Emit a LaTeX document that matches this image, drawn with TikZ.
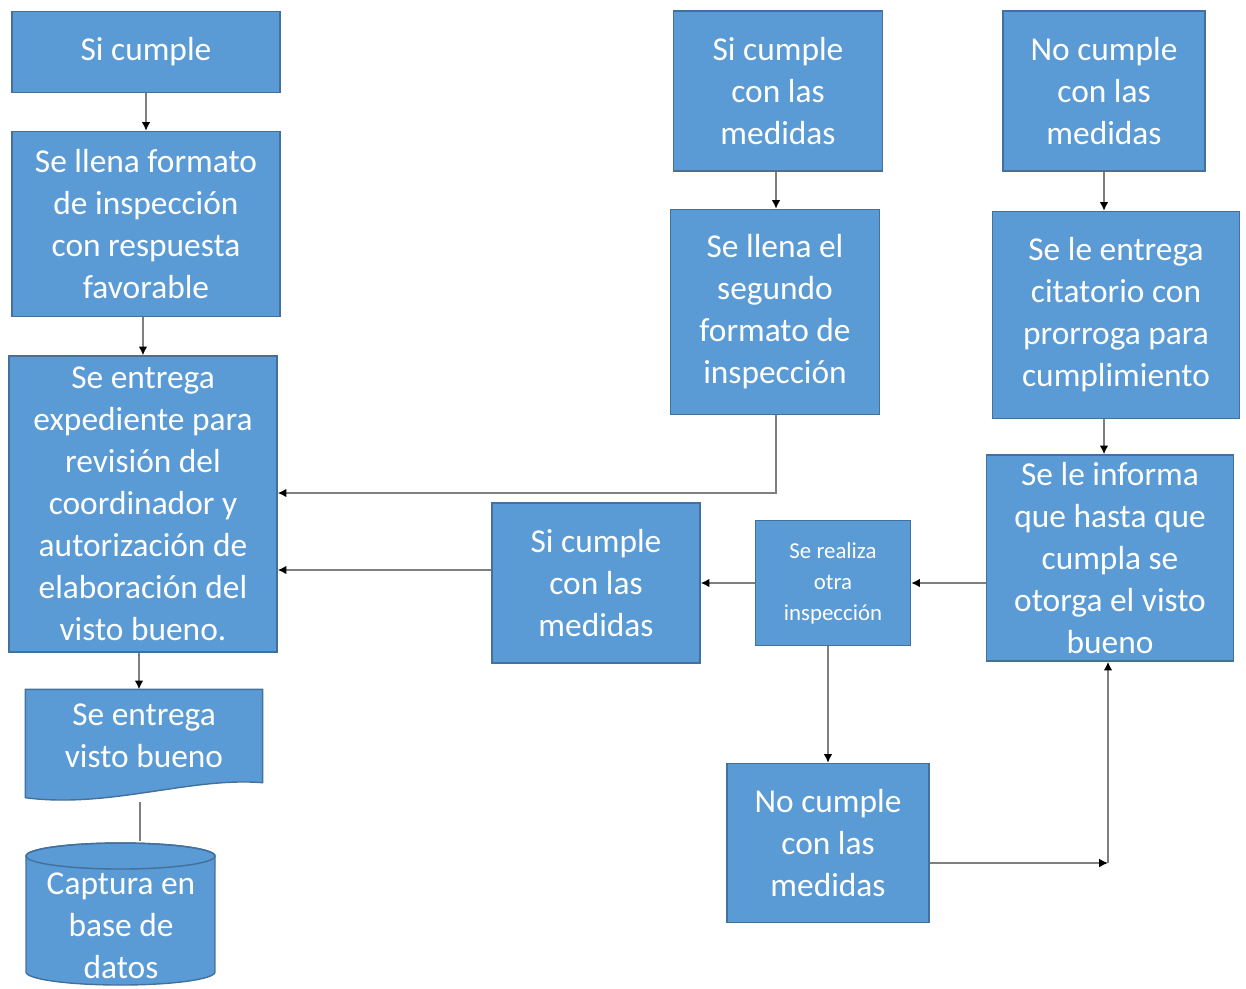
\documentclass[tikz,border=0pt]{standalone}
\usepackage{fontspec}
\setmainfont{Carlito}
\usetikzlibrary{arrows.meta,backgrounds}
\definecolor{boxblue}{HTML}{5B9BD5}
\definecolor{boxedge}{HTML}{41719C}
\definecolor{linegray}{HTML}{7F7F7F}

\begin{document}
\begin{tikzpicture}[x=0.02cm,y=-0.02cm]
        \tikzstyle{box}=[rectangle, fill=boxblue, draw=boxedge, line width=0.8pt, text=white, align=center, inner sep=2pt, font=\fontsize{19}{23.9}\selectfont]
        \tikzstyle{small}=[font=\fontsize{13}{17.6}\selectfont]
        \tikzstyle{arrow}=[linegray, line width=1.4pt, -{Latex[black,length=5pt,width=5pt]}]
        \tikzstyle{link}=[linegray, line width=1.4pt]
        \useasboundingbox (0,0) rectangle (1246,988);

        \node[box, minimum width=5.36cm, minimum height=1.62cm] (si1)  at (146,52)  {Si cumple};
        \node[box, minimum width=5.36cm, minimum height=3.70cm] (fmt)  at (146,224) {Se llena formato\\de inspección\\con respuesta\\favorable};
        \node[box, minimum width=5.36cm, minimum height=5.92cm] (exp)  at (143,504) {Se entrega\\expediente para\\revisión del\\coordinador y\\autorización de\\elaboración del\\visto bueno.};
        \node[box, draw=none, fill=none, minimum width=4.72cm, minimum height=1.84cm] (doc) at (144,736) {Se entrega\\visto bueno};
        \node[box, draw=none, fill=none, minimum width=3.78cm, minimum height=3.36cm] (db)  at (121,926) {Captura en\\base de\\datos};

        \node[box, minimum width=4.18cm, minimum height=3.20cm] (si2)  at (778,91)  {Si cumple\\con las\\medidas};
        \node[box, minimum width=4.18cm, minimum height=4.10cm] (seg)  at (775,312) {Se llena el\\segundo\\formato de\\inspección};
        \node[box, minimum width=4.04cm, minimum height=3.20cm] (no1)  at (1104,91) {No cumple\\con las\\medidas};
        \node[box, minimum width=4.94cm, minimum height=4.14cm] (cit)  at (1116,315) {Se le entrega\\citatorio con\\prorroga para\\cumplimiento};
        \node[box, minimum width=4.94cm, minimum height=4.12cm] (inf)  at (1110,558) {Se le informa\\que hasta que\\cumpla se\\otorga el visto\\bueno};
        \node[box, minimum width=4.16cm, minimum height=3.20cm] (si3)  at (596,583) {Si cumple\\con las\\medidas};
        \node[box, small, minimum width=3.10cm, minimum height=2.50cm] (otra) at (833,583) {Se realiza\\otra\\inspección};
        \node[box, minimum width=4.04cm, minimum height=3.18cm] (no2)  at (828,843) {No cumple\\con las\\medidas};

        \begin{scope}[on background layer]
            \filldraw[fill=boxblue, draw=boxedge, line width=0.8pt] (doc.north west) -- (doc.north east) -- (doc.south east)
                .. controls +(-1.44cm,0.12cm) and +(1.68cm,-0.22cm) .. ([yshift=-0.3cm]doc.south west) -- cycle;
            \filldraw[fill=boxblue, draw=boxedge, line width=0.8pt] (26,856) -- (26,972) arc (180:360:1.89cm and 0.26cm)
                -- (215,856) arc (0:180:1.89cm and 0.26cm) -- cycle;
            \draw[boxedge, line width=0.8pt] (120.5,856) ellipse (1.89cm and 0.26cm);
        \end{scope}

        \coordinate (docend) at (140,802);
        \coordinate (elbow)  at (1108,863);

        \draw[arrow] (si1) -- (fmt);
        \draw[arrow] (fmt.south -| exp) -- (exp);
        \draw[arrow] (exp.south -| 139,0) -- (doc.north -| 139,0);
        \draw[link] (docend) -- (db.north -| docend);

        \draw[arrow] (si2.south -| 776,0) -- (seg.north -| 776,0);
        \draw[arrow] (seg.south -| 776,0) |- (exp.east |- 0,493);
        \draw[arrow] (si3.west |- 0,570) -- (exp.east |- 0,570);

        \draw[arrow] (no1) -- (cit.north -| no1);
        \draw[arrow] (cit.south -| no1) -- (inf.north -| no1);
        \draw[arrow] (inf.west |- otra) -- (otra);
        \draw[arrow] (otra) -- (si3);
        \draw[arrow] (otra.south -| no2) -- (no2);
        \draw[arrow] (no2.east |- elbow) -- (elbow);
        \draw[arrow] (elbow) -- (inf.south -| elbow);
\end{tikzpicture}
\end{document}
